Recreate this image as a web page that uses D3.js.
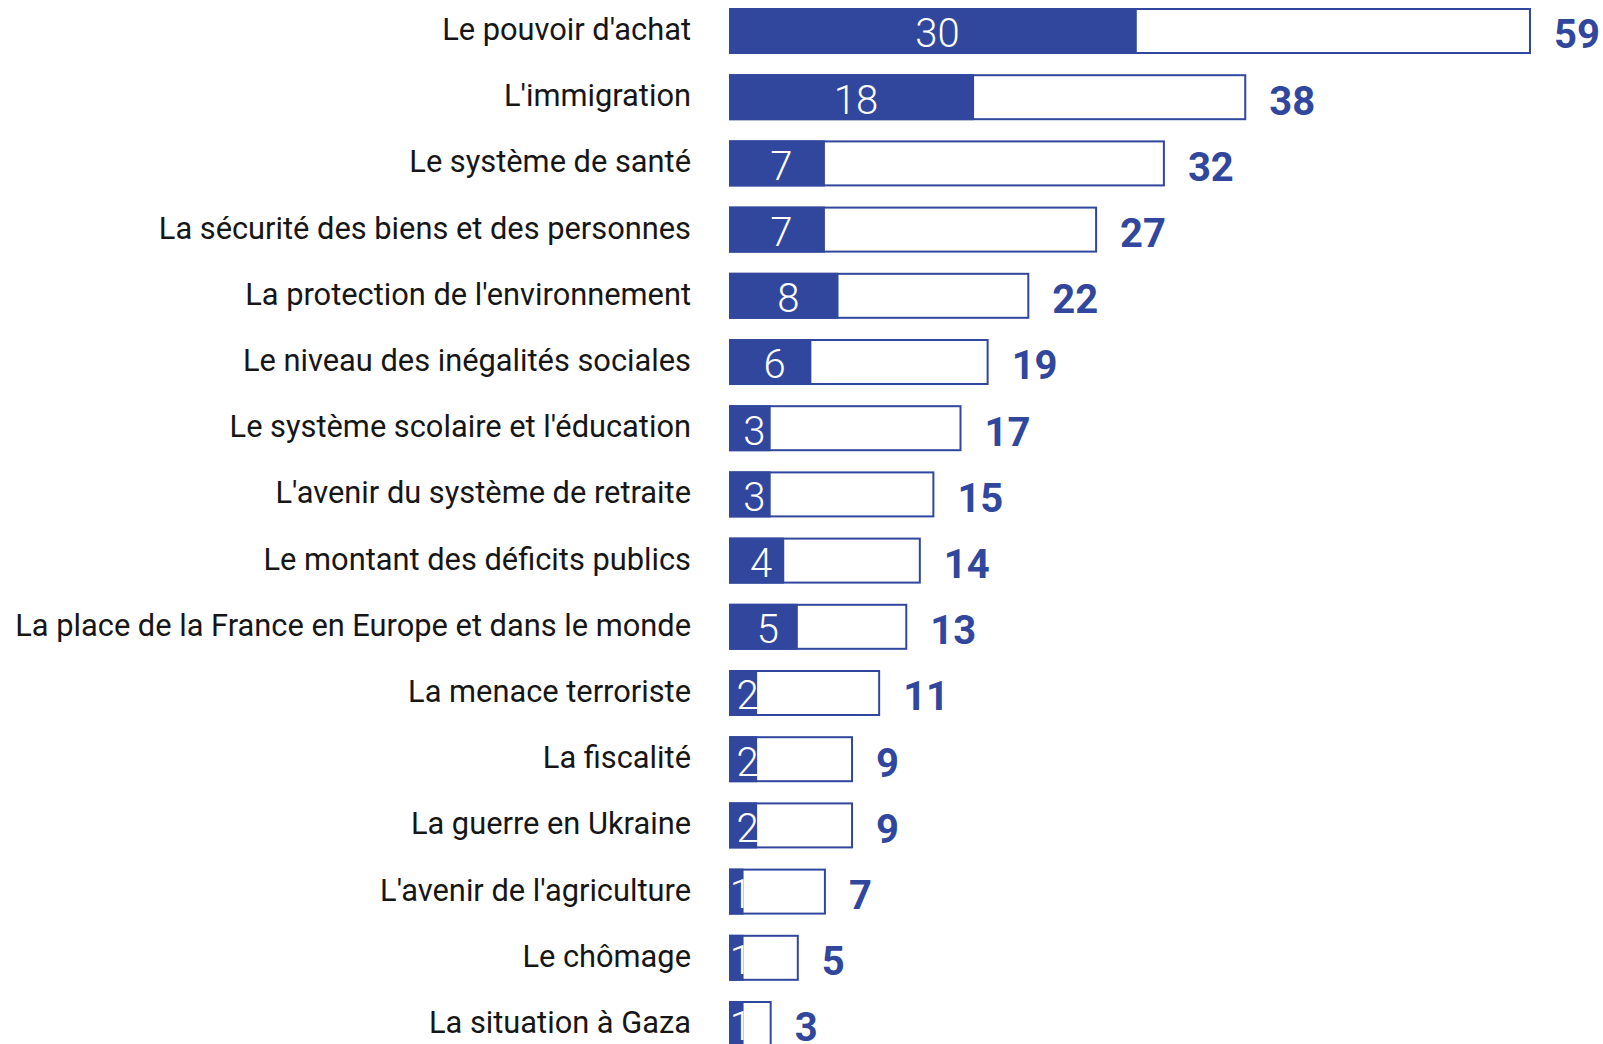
<!DOCTYPE html>
<html>
<head>
<meta charset="utf-8">
<script src="https://cdn.jsdelivr.net/npm/d3@7"></script>
<style>
  body { margin: 0; background: #fff; }
  svg { display: block; }
</style>
</head>
<body>
<svg id="chart" width="1603" height="1044"></svg>
<script>
var categories = [
	"Le pouvoir d'achat",
	"L'immigration",
	"Le système de santé",
	"La sécurité des biens et des personnes",
	"La protection de l'environnement",
	"Le niveau des inégalités sociales",
	"Le système scolaire et l'éducation",
	"L'avenir du système de retraite",
	"Le montant des déficits publics",
	"La place de la France en Europe et dans le monde",
	"La menace terroriste",
	"La fiscalité",
	"La guerre en Ukraine",
	"L'avenir de l'agriculture",
	"Le chômage",
	"La situation à Gaza"
];
var firstValues = [30, 18, 7, 7, 8, 6, 3, 3, 4, 5, 2, 2, 2, 1, 1, 1];
var totalValues = [59, 38, 32, 27, 22, 19, 17, 15, 14, 13, 11, 9, 9, 7, 5, 3];

var blue = "#30479d";

var svg = d3.select("#chart"),
	margin = { top: 9, left: 730 },
	step = 66.2,
	barH = 44,
	pad = 1 - barH / step,
	g = svg.append("g").attr("transform", "translate(" + margin.left + "," + margin.top + ")"),
	data = [];

for (var i = 0; i < categories.length; i++) {
	data.push({ "cat": categories[i], "first": firstValues[i], "total": totalValues[i] });
}

var x = d3.scaleLinear()
	.domain([0, 59])
	.range([0, 800]);

var y = d3.scaleBand()
	.domain(categories)
	.range([0, step * (categories.length - pad)])
	.paddingInner(pad)
	.paddingOuter(0);

var rows = g.selectAll(".row")
	.data(data)
	.enter().append("g")
	.attr("class", "row")
	.attr("transform", function (d) { return "translate(0," + y(d.cat) + ")"; });

// outline for total
rows.append("rect")
	.attr("x", 0)
	.attr("y", 0)
	.attr("width", function (d) { return x(d.total); })
	.attr("height", y.bandwidth())
	.attr("fill", "#fff")
	.attr("stroke", blue)
	.attr("stroke-width", 2);

// filled part
rows.append("rect")
	.attr("x", -1)
	.attr("y", -1)
	.attr("width", function (d) { return x(d.first) + 1; })
	.attr("height", y.bandwidth() + 2)
	.attr("fill", blue);

// inner numbers
rows.append("text")
	.attr("x", function (d) { return x(d.first) / 2 + 4; })
	.attr("y", y.bandwidth() / 2 + 2)
	.attr("dy", "0.36em")
	.attr("text-anchor", "middle")
	.attr("font-family", "Roboto, sans-serif")
	.attr("font-weight", 300)
	.attr("font-size", "40px")
	.attr("fill", "#fff")
	.text(function (d) { return d.first; });

// total labels
rows.append("text")
	.attr("x", function (d) { return x(d.total) + 24; })
	.attr("y", y.bandwidth() / 2 + 3)
	.attr("dy", "0.36em")
	.attr("font-family", "Roboto, sans-serif")
	.attr("font-weight", 700)
	.attr("font-size", "40px")
	.attr("fill", blue)
	.text(function (d) { return d.total; });

// category labels
rows.append("text")
	.attr("x", -39)
	.attr("y", y.bandwidth() / 2 - 2)
	.attr("dy", "0.36em")
	.attr("text-anchor", "end")
	.attr("font-family", "Roboto, sans-serif")
	.attr("font-size", "30.8px")
	.attr("fill", "#161616")
	.text(function (d) { return d.cat; });
</script>
</body>
</html>
